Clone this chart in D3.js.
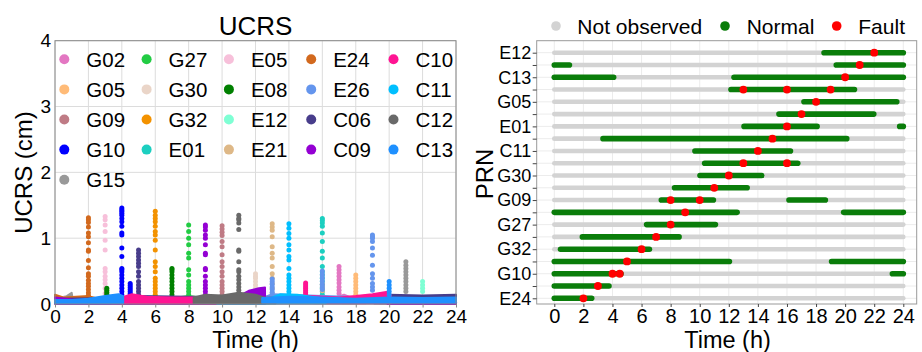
<!DOCTYPE html>
<html>
<head>
<meta charset="utf-8">
<script src="https://cdn.jsdelivr.net/npm/d3@7"></script>
<style>
  body { margin: 0; background: #fff; }
  svg { display: block; }
  text { font-family: "Liberation Sans", Arial, Helvetica, sans-serif; fill: #000; }
</style>
</head>
<body>
<svg id="chart" width="922" height="352"></svg>
<script>
// ---------- satellites (legend order = drawing order) ----------
const satellites = ["G02","G05","G09","G10","G15","G27","G30","G32","E01","E05","E08",
                    "E12","E21","E24","E26","C06","C09","C10","C11","C12","C13"];
const satColors  = ["#e377c2","#ffbb78","#bf7b85","#0000ff","#999999","#22cc44","#ead5c8",
                    "#f39200","#1ccfc0","#f7c0da","#008000","#7fffd4","#deb887","#d2691e",
                    "#6495ed","#483d8b","#9400d3","#ff1493","#00bfff","#696969","#1e90ff"];

// ---------- UCRS noise floor: [satellite, [[hour, low, high], ...]] ----------
const noiseBands = [
  ["G02", [[15.5,.01,.06],[16.5,.01,.08],[17.3,.01,.14],[18,.01,.07],[21.9,.01,.06]]],
  ["G05", [[17.2,.01,.06],[18,.01,.1],[19,.01,.06],[23.5,.01,.05]]],
  ["G09", [[7.4,.01,.07],[10.9,.01,.08]]],
  ["G09", [[16.2,.01,.06],[18.6,.01,.06]]],
  ["G10", [[0,.01,.06],[4.6,.01,.08]]],
  ["G10", [[23.3,.01,.05],[24,.01,.05]]],
  ["G15", [[0,.01,.08],[0.7,.01,.12],[1,.01,.17],[1.04,.01,.1]]],
  ["G15", [[19.4,.01,.07],[24,.01,.07]]],
  ["G27", [[6.4,.01,.07],[8,.01,.12],[9,.01,.09],[11.1,.01,.08]]],
  ["G30", [[10,.01,.08],[11.6,.01,.12],[12,.01,.2],[12.5,.01,.1],[14.3,.01,.07]]],
  ["G32", [[0.4,.01,.05],[6.5,.01,.08]]],
  ["E01", [[13.1,.01,.07],[16,.01,.1],[18.1,.01,.06]]],
  ["E01", [[23.7,.01,.05],[24,.01,.05]]],
  ["E05", [[0,.01,.12],[1,.01,.08],[3.7,.01,.08]]],
  ["E08", [[1.9,.01,.06],[7,.01,.1],[8.6,.01,.07]]],
  ["E12", [[18.6,.01,.06],[22,.01,.1],[24,.01,.06]]],
  ["E21", [[10.3,.01,.07],[13,.01,.12],[16.7,.01,.07]]],
  ["E24", [[0,.01,.14],[0.5,.01,.1],[2,.01,.12],[2.6,.01,.08]]],
  ["E26", [[12.2,.01,.07],[13,.01,.15],[16,.01,.12],[19,.01,.1],[20.6,.01,.07]]],
  ["C06", [[0,.01,.08],[4,.01,.09],[5,.01,.12],[8,.01,.11],[12,.01,.1]]],
  ["C06", [[19.1,.01,.12],[20,.01,.14],[22,.01,.13],[24,.01,.14]]],
  ["C09", [[0,.005,.1],[1,.005,.07],[4,.005,.05],[8,.005,.07],[11,.005,.12],[11.6,.005,.2],[12.2,.005,.24],[12.57,.005,.25]]],
  ["C09", [[19.9,0,.025],[24,0,.025]]],
  ["C10", [[3.4,.01,.06],[4,.01,.1],[4.6,.01,.15],[5.5,.01,.11],[7,.01,.1],[9,.01,.1],[12,.01,.09],
           [14.9,.01,.1],[15.2,.01,.12],[17,.01,.1],[18,.01,.12],[19,.01,.15],[20,.01,.19],[20.1,.01,.12]]],
  ["C11", [[9.7,.005,.03],[12.4,.005,.04],[13.5,.01,.15],[14.5,.01,.14],[16.2,.01,.08]]],
  ["C12", [[8.3,.01,.1],[9,.01,.14],[10,.01,.13],[11,.01,.17],[12,.01,.14],[12.5,.01,.1],[13.2,.01,.09]]],
  ["C13", [[0,.01,.06],[1,.01,.06],[2,.01,.08],[3,.01,.12],[3.8,.01,.15],[4.08,.01,.12]]],
  ["C13", [[12.4,.02,.09],[14,.02,.11],[16,.02,.1],[18,.02,.08],[20,.02,.1],[22,.02,.09],[24,.02,.1]]]
];

// ---------- UCRS jumps at fault epochs: [satellite, hour, values (cm)] ----------
const spikes = [
  ["E24", 2,  [1.31,1.28,1.24,1.17,1.08,1.02,0.93,0.82,0.8,0.66,0.55,0.46,0.42,0.36,0.31,0.27,0.22,0.17,0.13,0.1]],
  ["E05", 3,  [1.33,1.28,1.2,1.1,0.97,0.82,0.54,0.49,0.42,0.37,0.31,0.24,0.16]],
  ["E08", 3.1,[0.24,0.21,0.18,0.15]],
  ["G10", 4,  [1.46,1.43,1.41,1.38,1.35,1.3,1.25,1.18,1.08,1.05,0.85,0.72,0.54,0.52,0.49,0.44,0.39,0.34,0.29,0.24,0.19,0.14]],
  ["G10", 4.5,[0.31,0.28,0.25,0.22,0.19,0.16,0.13]],
  ["C06", 5,  [0.82,0.77,0.72,0.67,0.62,0.57,0.49,0.42,0.34,0.29,0.24,0.19,0.14]],
  ["G32", 6,  [1.41,1.35,1.3,1.25,1.18,1.1,1.05,0.97,0.82,0.64,0.57,0.49,0.39,0.34,0.29,0.24,0.19,0.14,0.11]],
  ["E08", 7,  [0.54,0.52,0.49,0.44,0.39,0.34,0.29,0.24,0.19,0.14]],
  ["G27", 8,  [1.2,1.1,1.0,0.9,0.77,0.7,0.52,0.44,0.34,0.29,0.24,0.19,0.14]],
  ["C09", 9,  [1.2,1.17,1.12,1.05,1.0,0.9,0.77,0.75,0.54,0.52,0.42,0.34,0.29,0.24,0.19,0.14]],
  ["G09", 10, [1.19,1.14,1.09,1.04,0.95,0.87,0.75,0.64,0.57,0.49,0.42,0.34,0.29,0.24,0.19,0.14]],
  ["C12", 11, [1.35,1.3,1.28,1.23,1.13,0.82,0.8,0.64,0.52,0.49,0.42,0.37,0.31,0.26,0.21,0.16]],
  ["G30", 12, [0.46,0.42,0.39,0.34,0.29,0.24]],
  ["E21", 13, [1.22,1.17,1.12,1.02,0.87,0.77,0.7,0.57,0.46,0.39,0.31,0.24,0.16]],
  ["E26", 13, [0.38,0.34,0.3,0.26,0.22,0.18]],
  ["C11", 14, [1.22,1.15,1.07,1.0,0.9,0.82,0.72,0.67,0.54,0.44,0.39,0.34,0.29,0.24,0.19,0.14]],
  ["C10", 15, [0.32,0.29,0.26,0.23,0.2,0.17,0.14]],
  ["E21", 16, [0.3,0.25,0.2]],
  ["E01", 16, [1.3,1.27,1.23,1.18,1.08,0.95,0.8,0.7,0.57,0.49,0.44,0.39,0.34,0.29,0.24,0.19,0.14]],
  ["E26", 16, [0.5,0.45,0.4,0.35,0.3,0.26,0.22]],
  ["G02", 17, [0.57,0.52,0.47,0.42,0.37,0.32,0.26,0.21,0.16]],
  ["G05", 18, [0.44,0.39,0.34,0.29,0.24,0.19,0.14]],
  ["E26", 19, [1.05,1.02,1.0,0.95,0.85,0.74,0.59,0.46,0.39,0.31,0.26,0.21]],
  ["C13", 20, [0.34,0.29,0.24,0.19,0.14]],
  ["G15", 21, [0.64,0.59,0.54,0.49,0.44,0.39,0.34,0.29,0.24,0.19]],
  ["E12", 22, [0.34,0.29,0.24,0.19]]
];

// ---------- observation status panel (rows listed bottom to top) ----------
const prnRows = ["E24","E05","G10","C06","G32","E08","G27","C09","G09","C12","G30",
                 "E21","C11","C10","E01","G02","G05","E26","C13","G15","E12"];
const prnLabels = ["E24","G10","G32","G27","G09","G30","C11","E01","G05","C13","E12"];
const normalArcs = [
  [[0,2.57]], [[0,3.76]], [[0,4.59],[23.25,24]], [[0,12.04],[19.07,24]], [[0.43,6.54]],
  [[1.93,8.58]], [[6.35,11.08]], [[0,12.57],[19.9,24]], [[7.36,10.94],[16.14,18.64]],
  [[8.27,13.26]], [[10.02,14.26]], [[10.34,16.74]], [[9.67,16.24]], [[3.35,20.11]],
  [[13.05,18.07],[23.75,24]], [[15.45,21.97]], [[17.17,23.55]], [[12.15,20.64]],
  [[0,4.08],[12.36,24]], [[0,1.04],[19.39,24]], [[18.55,24]]
];
const faultHours = [
  [2],[3],[4,4.5],[5],[6],[7],[8],[9],[8,10],[11],[12],[13,16],[14],[15],[16],[17],[18],
  [13,16,19],[20],[21],[22]
];
const hourTicks = d3.range(0, 25, 2);
const ucrsTicks = [0, 1, 2, 3, 4];
const statusLegend = [["Not observed","#d3d3d3"],["Normal","#0a7d0a"],["Fault","#ff0000"]];

const svg = d3.select("#chart");
const colorOf = d3.scaleOrdinal(satellites, satColors);
const FONT = "'Liberation Sans', Arial, sans-serif";

// =============== left panel: UCRS time series ===============
const L = {x0: 55, x1: 456, y0: 40.7, y1: 304};
const xL = d3.scaleLinear().domain([0, 24]).range([L.x0, L.x1]);
const yL = d3.scaleLinear().domain([0, 4]).range([L.y1, L.y0]);
const left = svg.append("g");

left.append("g").selectAll("line").data(hourTicks).join("line")
  .attr("x1", d => xL(d)).attr("x2", d => xL(d)).attr("y1", L.y0).attr("y2", L.y1)
  .attr("stroke", "#dcdcdc").attr("stroke-width", 1);
left.append("g").selectAll("line").data(ucrsTicks).join("line")
  .attr("x1", L.x0).attr("x2", L.x1).attr("y1", d => yL(d)).attr("y2", d => yL(d))
  .attr("stroke", "#dcdcdc").attr("stroke-width", 1);

const plotL = left.append("g");
const area = d3.area().x(d => xL(d[0])).y0(d => yL(d[1])).y1(d => yL(d[2]));
satellites.forEach(sat => {
  const c = colorOf(sat);
  noiseBands.filter(b => b[0] === sat).forEach(b => {
    plotL.append("path").attr("d", area(b[1])).attr("fill", c)
      .attr("stroke", c).attr("stroke-width", 2).attr("stroke-linejoin", "round");
  });
  spikes.filter(s => s[0] === sat).forEach(s => {
    plotL.append("g").selectAll("circle").data(s[2]).join("circle")
      .attr("cx", xL(s[1])).attr("cy", v => yL(v)).attr("r", 2.5).attr("fill", c);
  });
});

left.append("rect").attr("x", L.x0).attr("y", L.y0)
  .attr("width", L.x1 - L.x0).attr("height", L.y1 - L.y0)
  .attr("fill", "none").attr("stroke", "#888").attr("stroke-width", 1);

// axes
const axL = left.append("g").attr("transform", `translate(0,${L.y1})`)
  .call(d3.axisBottom(xL).tickValues(hourTicks).tickSize(3.5).tickPadding(1.5));
axL.select(".domain").remove();
axL.selectAll("line").attr("stroke", "#888");
axL.selectAll("text").attr("font-size", 19).attr("dy", "0.72em").style("font-family", FONT);
const ayL = left.append("g").attr("transform", `translate(${L.x0},0)`)
  .call(d3.axisLeft(yL).tickValues(ucrsTicks).tickFormat(d3.format("d")).tickSize(0).tickPadding(4));
ayL.select(".domain").remove();
ayL.selectAll("text").attr("font-size", 19).style("font-family", FONT);

left.append("text").attr("x", 255.5).attr("y", 35).attr("text-anchor", "middle")
  .attr("font-size", 26).text("UCRS");
left.append("text").attr("x", 255.5).attr("y", 348).attr("text-anchor", "middle")
  .attr("font-size", 23.5).text("Time (h)");
left.append("text").attr("transform", "translate(23,172.5) rotate(-90)")
  .attr("text-anchor", "middle").attr("dominant-baseline", "central")
  .attr("font-size", 24).text("UCRS (cm)");

// legend: 5 columns filled column by column
const legCols = [0, 5, 9, 13, 17];
const legend = left.append("g");
satellites.forEach((sat, i) => {
  let col = 0;
  for (let k = 0; k < legCols.length; k++) if (i >= legCols[k]) col = k;
  const row = i - legCols[col];
  const cx = 64.3 + col * 82.3, cy = 59.3 + row * 30.1;
  legend.append("circle").attr("cx", cx).attr("cy", cy).attr("r", 5).attr("fill", colorOf(sat));
  legend.append("text").attr("x", cx + 22).attr("y", cy).attr("dominant-baseline", "central")
    .attr("font-size", 20.5).text(sat);
});

// =============== right panel: observation status ===============
const R = {x0: 536.7, x1: 916.7, y0: 40.7, y1: 304};
const xR = d3.scaleLinear().domain([0, 24]).range([554.3, 903.3]);
const yR = d3.scalePoint().domain(prnRows).range([298.3, 52.7]);
const right = svg.append("g");

right.append("g").selectAll("line").data(hourTicks).join("line")
  .attr("x1", d => xR(d)).attr("x2", d => xR(d)).attr("y1", R.y0).attr("y2", R.y1)
  .attr("stroke", "#ececec").attr("stroke-width", 1);
right.append("g").selectAll("line").data(prnRows).join("line")
  .attr("x1", R.x0).attr("x2", R.x1).attr("y1", d => yR(d)).attr("y2", d => yR(d))
  .attr("stroke", "#ececec").attr("stroke-width", 1);

// whole-day background bars
right.append("g").selectAll("line").data(prnRows).join("line")
  .attr("x1", xR(0)).attr("x2", xR(24)).attr("y1", d => yR(d)).attr("y2", d => yR(d))
  .attr("stroke", statusLegend[0][1]).attr("stroke-width", 4.6).attr("stroke-linecap", "round");
// normal-observation arcs
prnRows.forEach((prn, i) => {
  right.append("g").selectAll("line").data(normalArcs[i]).join("line")
    .attr("x1", d => xR(d[0])).attr("x2", d => xR(d[1]))
    .attr("y1", yR(prn)).attr("y2", yR(prn))
    .attr("stroke", statusLegend[1][1]).attr("stroke-width", 5.6).attr("stroke-linecap", "round");
});
// faults
prnRows.forEach((prn, i) => {
  right.append("g").selectAll("circle").data(faultHours[i]).join("circle")
    .attr("cx", d => xR(d)).attr("cy", yR(prn)).attr("r", 3.9).attr("fill", statusLegend[2][1]);
});

right.append("rect").attr("x", R.x0).attr("y", R.y0)
  .attr("width", R.x1 - R.x0).attr("height", R.y1 - R.y0)
  .attr("fill", "none").attr("stroke", "#999").attr("stroke-width", 1);

const axR = right.append("g").attr("transform", `translate(0,${R.y1})`)
  .call(d3.axisBottom(xR).tickValues(hourTicks).tickSize(3).tickPadding(2));
axR.select(".domain").remove();
axR.selectAll("line").attr("stroke", "#444");
axR.selectAll("text").attr("font-size", 20).attr("dy", "0.72em").style("font-family", FONT);
const ayR = right.append("g").attr("transform", `translate(${R.x0},0)`)
  .call(d3.axisLeft(yR).tickSize(4).tickPadding(1.5)
    .tickFormat(d => prnLabels.includes(d) ? d : ""));
ayR.select(".domain").remove();
ayR.selectAll("line").attr("stroke", "#444");
ayR.selectAll("text").attr("font-size", 18).style("font-family", FONT);

right.append("text").attr("x", 727.5).attr("y", 348).attr("text-anchor", "middle")
  .attr("font-size", 23.5).text("Time (h)");
right.append("text").attr("transform", "translate(484,174) rotate(-90)")
  .attr("text-anchor", "middle").attr("dominant-baseline", "central")
  .attr("font-size", 24).text("PRN");

const legX = [[556, 577.3], [725, 746.7], [836.7, 858.3]];
statusLegend.forEach((d, i) => {
  right.append("circle").attr("cx", legX[i][0]).attr("cy", 26).attr("r", 4.8).attr("fill", d[1]);
  right.append("text").attr("x", legX[i][1]).attr("y", 26).attr("dominant-baseline", "central")
    .attr("font-size", 21).text(d[0]);
});
</script>
</body>
</html>
